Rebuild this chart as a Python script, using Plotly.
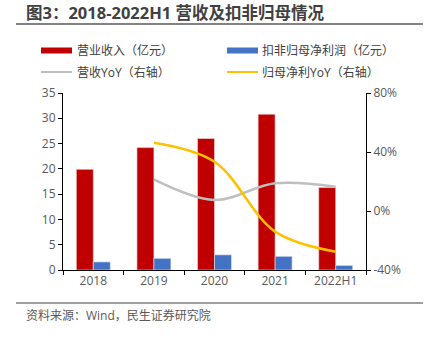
import plotly.graph_objects as go

# Revenue and deducted net profit (亿元), with YoY growth rates (%)
categories = ["2018", "2019", "2020", "2021", "2022H1"]
revenue = [19.9, 24.2, 26.0, 30.8, 16.3]
net_profit = [1.6, 2.3, 3.0, 2.7, 0.9]
revenue_yoy = [None, 21.5, 7.5, 18.8, 16.5]
profit_yoy = [None, 46.3, 33.4, -14.0, -27.6]

left_ticks = [0, 5, 10, 15, 20, 25, 30, 35]
right_ticks = [-40, 0, 40, 80]
right_labels = ["-40%", "0%", "40%", "80%"]

RED = "#C00000"
BLUE = "#4472C4"
GRAY = "#BFBFBF"
YELLOW = "#FFC000"
FONT = "Open Sans, Noto Sans CJK SC, sans-serif"

W, H = 431, 337
L, R, T, B = 63, 65, 93, 67
pw, ph = W - L - R, H - T - B

fig = go.Figure()
fig.add_trace(go.Bar(x=categories, y=revenue, name="营业收入（亿元）",
                     marker=dict(color=RED, line=dict(color="#F2DCDB", width=0.6)),
                     yaxis="y"))
fig.add_trace(go.Bar(x=categories, y=net_profit, name="扣非归母净利润（亿元）",
                     marker=dict(color=BLUE, line=dict(color="#DCE6F2", width=0.6)),
                     yaxis="y"))
fig.add_trace(go.Scatter(x=categories, y=revenue_yoy, name="营收YoY（右轴）",
                         mode="lines", line=dict(color=GRAY, width=2.5, shape="spline"),
                         yaxis="y2", connectgaps=False))
fig.add_trace(go.Scatter(x=categories, y=profit_yoy, name="归母净利YoY（右轴）",
                         mode="lines", line=dict(color=YELLOW, width=2.5, shape="spline"),
                         yaxis="y2", connectgaps=False))


def fx(px):
    """Page pixel x -> paper fraction of the plot area."""
    return (px - L) / pw


def fy(px):
    """Page pixel y (from top) -> paper fraction of the plot area."""
    return (H - B - px) / ph


shapes = [
    # rules under the title and above the source line
    dict(type="line", xref="paper", yref="paper", x0=fx(16), x1=fx(423),
         y0=fy(24), y1=fy(24), line=dict(color="#595959", width=1.5)),
    dict(type="line", xref="paper", yref="paper", x0=fx(16), x1=fx(423),
         y0=fy(303), y1=fy(303), line=dict(color="#7F7F7F", width=1.5)),
    # legend swatches
    dict(type="rect", xref="paper", yref="paper", x0=fx(41), x1=fx(72),
         y0=fy(53.5), y1=fy(47.5), fillcolor=RED, line=dict(width=0)),
    dict(type="rect", xref="paper", yref="paper", x0=fx(227), x1=fx(258),
         y0=fy(53.5), y1=fy(47.5), fillcolor=BLUE, line=dict(width=0)),
    dict(type="line", xref="paper", yref="paper", x0=fx(41), x1=fx(72),
         y0=fy(72), y1=fy(72), line=dict(color=GRAY, width=2)),
    dict(type="line", xref="paper", yref="paper", x0=fx(227), x1=fx(258),
         y0=fy(72), y1=fy(72), line=dict(color=YELLOW, width=2)),
]


def ann(text, x, y, size, color, bold=False):
    return dict(text=f"<b>{text}</b>" if bold else text, xref="paper", yref="paper",
                x=fx(x), y=fy(y), xanchor="left", yanchor="middle",
                showarrow=False, font=dict(family=FONT, size=size, color=color))


annotations = [
    ann("图3：2018-2022H1 营收及扣非归母情况", 24, 13, 16.5, "#404040", bold=True),
    ann("资料来源：Wind，民生证券研究院", 24, 315, 12, "#595959"),
    ann(fig.data[0].name, 75, 51, 12, "#404040"),
    ann(fig.data[1].name, 260, 51, 12, "#404040"),
    ann(fig.data[2].name, 75, 72, 12, "#404040"),
    ann(fig.data[3].name, 260, 72, 12, "#404040"),
]

tickfont = dict(family=FONT, size=12, color="#595959")

fig.update_layout(
    width=W, height=H,
    margin=dict(l=L, r=R, t=T, b=B, pad=0),
    paper_bgcolor="white", plot_bgcolor="white",
    showlegend=False,
    barmode="group", bargap=0.44, bargroupgap=0,
    font=dict(family=FONT, size=12, color="#595959"),
    xaxis=dict(type="category", showline=True, linecolor="#000000", linewidth=1,
               ticks="outside", ticklen=4, tickcolor="#000000", tickson="boundaries",
               showgrid=False, tickfont=tickfont),
    yaxis=dict(range=[0, 35], tickvals=left_ticks, showline=True, linecolor="#000000",
               linewidth=1, ticks="outside", ticklen=4, tickcolor="#000000",
               showgrid=False, zeroline=False, tickfont=tickfont),
    yaxis2=dict(range=[-40, 80], tickvals=right_ticks, ticktext=right_labels,
                overlaying="y", side="right", showline=True, linecolor="#000000",
                linewidth=1, ticks="outside", ticklen=4, tickcolor="#000000",
                showgrid=False, zeroline=False, tickfont=tickfont),
    shapes=shapes,
    annotations=annotations,
)

fig.write_html("out.html")
